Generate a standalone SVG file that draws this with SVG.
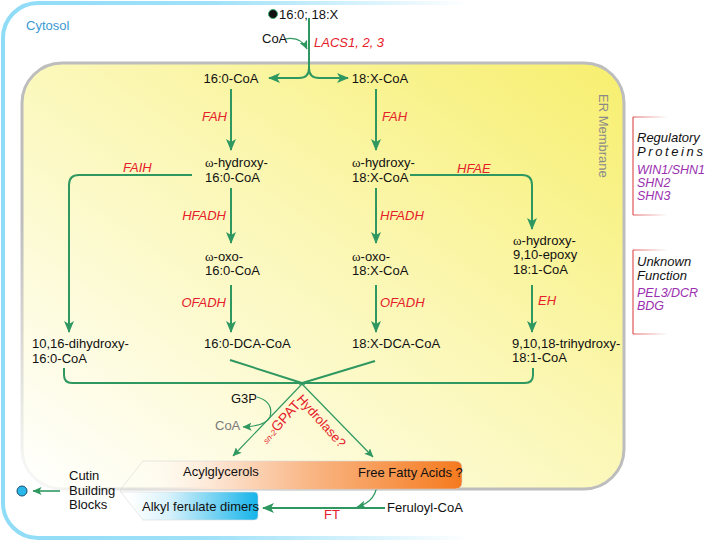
<svg xmlns="http://www.w3.org/2000/svg" width="713" height="542" viewBox="0 0 713 542">
<defs>
<style>
.t{font-family:"Liberation Sans",Arial,sans-serif;font-size:13px;fill:#111}
.w{font-family:"Liberation Serif","Times New Roman",serif}
.e{fill:#e5202a;font-style:italic}
.r{fill:#e5202a}
.p{fill:#9b30b0;font-style:italic;font-size:12.5px}
.g{stroke:#2f9860;stroke-width:2;fill:none}
.gt{stroke:#2f9860;stroke-width:1.2;fill:none}
</style>
<marker id="ah" viewBox="0 0 12 10" refX="11" refY="5" markerWidth="12" markerHeight="10" markerUnits="userSpaceOnUse" orient="auto"><path d="M0,0 L12,5 L0,10 L3,5 z" fill="#2f9860"/></marker>
<marker id="as" viewBox="0 0 9 8" refX="8.5" refY="4" markerWidth="9" markerHeight="8" markerUnits="userSpaceOnUse" orient="auto"><path d="M0,0 L9,4 L0,8 L2,4 z" fill="#2f9860"/></marker>
<linearGradient id="erg" x1="1" y1="0" x2="0" y2="1"><stop offset="0" stop-color="#f7ef6e"/><stop offset="0.45" stop-color="#fbf7b4"/><stop offset="1" stop-color="#ffffff"/></linearGradient>
<linearGradient id="ers" gradientUnits="userSpaceOnUse" x1="20" y1="500" x2="160" y2="360"><stop offset="0" stop-color="#bdbdbd" stop-opacity="0"/><stop offset="1" stop-color="#bdbdbd"/></linearGradient>
<linearGradient id="cys" gradientUnits="userSpaceOnUse" x1="0" y1="0" x2="470" y2="0"><stop offset="0" stop-color="#8fdcf7"/><stop offset="0.45" stop-color="#8fdcf7" stop-opacity="0.85"/><stop offset="1" stop-color="#8fdcf7" stop-opacity="0"/></linearGradient>
<linearGradient id="org" gradientUnits="userSpaceOnUse" x1="130" y1="0" x2="462" y2="0"><stop offset="0" stop-color="#ffffff" stop-opacity="0"/><stop offset="0.25" stop-color="#fde6d4"/><stop offset="0.55" stop-color="#f9b583"/><stop offset="1" stop-color="#f57a1e"/></linearGradient>
<linearGradient id="blg" gradientUnits="userSpaceOnUse" x1="130" y1="0" x2="258" y2="0"><stop offset="0" stop-color="#ffffff"/><stop offset="0.3" stop-color="#d8f2fb"/><stop offset="1" stop-color="#16b4ea"/></linearGradient>
<linearGradient id="brk" gradientUnits="userSpaceOnUse" x1="633" y1="0" x2="668" y2="0"><stop offset="0" stop-color="#e05555"/><stop offset="1" stop-color="#e05555" stop-opacity="0"/></linearGradient>
</defs>

<g id="cytosol">
<path d="M470,3 H38 A35,35 0 0 0 3,38 V503 A35,35 0 0 0 38,538 H470" fill="none" stroke="url(#cys)" stroke-width="4"/>
<text class="t" x="26" y="30" style="fill:#3a9ad3">Cytosol</text>
</g>

<g id="er-membrane">
<rect x="22" y="63" width="602" height="426" rx="40" ry="40" fill="url(#erg)" stroke="url(#ers)" stroke-width="3"/>
<text class="t" transform="translate(599,94) rotate(90)" style="fill:#8a8a8a">ER Membrane</text>
</g>

<g id="regulatory-proteins">
<path d="M668,117 H633 M633,215 H668" stroke="url(#brk)" stroke-width="1.2" fill="none"/>
<path d="M633,117 V215" stroke="#e05555" stroke-width="1.2"/>
<text class="t" x="637" y="142" font-style="italic">Regulatory</text>
<text class="t" x="637" y="156" font-style="italic" letter-spacing="2.6">Proteins</text>
<text class="t p" x="637" y="174">WIN1/SHN1</text>
<text class="t p" x="637" y="187">SHN2</text>
<text class="t p" x="637" y="200">SHN3</text>
</g>

<g id="unknown-function">
<path d="M668,250 H633 M633,334 H668" stroke="url(#brk)" stroke-width="1.2" fill="none"/>
<path d="M633,250 V334" stroke="#e05555" stroke-width="1.2"/>
<text class="t" x="637" y="266" font-style="italic">Unknown</text>
<text class="t" x="637" y="280" font-style="italic">Function</text>
<text class="t p" x="637" y="297">PEL3/DCR</text>
<text class="t p" x="637" y="310">BDG</text>
</g>

<g id="connectors">
<path class="g" d="M309,18 V68 Q309,78 299,78 H269" marker-end="url(#ah)"/>
<path class="g" d="M309,68 Q309,78 319,78 H348" marker-end="url(#ah)"/>
<path class="gt" d="M285,39 Q301,36 307,49" marker-end="url(#as)"/>
<path class="g" d="M231,89 V150" marker-end="url(#ah)"/>
<path class="g" d="M231,188 V243" marker-end="url(#ah)"/>
<path class="g" d="M231,285 V332" marker-end="url(#ah)"/>
<path class="g" d="M376,89 V150" marker-end="url(#ah)"/>
<path class="g" d="M376,188 V243" marker-end="url(#ah)"/>
<path class="g" d="M376,285 V332" marker-end="url(#ah)"/>
<path class="g" d="M410,175 H522 Q532,175 532,185 V229" marker-end="url(#ah)"/>
<path class="g" d="M532,285 V332" marker-end="url(#ah)"/>
<path class="g" d="M192,175 H79 Q69,175 69,185 V332" marker-end="url(#ah)"/>
<path class="g" d="M64,368 V375 Q64,383 72,383 H525 Q533,383 533,375 V368"/>
<path class="g" d="M230,360 L305,384"/>
<path class="g" d="M375,361 L299,384"/>
<path class="gt" d="M302,384 L233,456" marker-end="url(#as)"/>
<path class="gt" d="M302,384 L373,457" marker-end="url(#as)"/>
<path class="gt" d="M257,397 Q274,402 270,417 Q266,426 243,427" marker-end="url(#as)"/>
<path class="g" d="M263,472 H353" marker-end="url(#ah)"/>
<path class="gt" d="M377,480 Q378,501 357,507" marker-end="url(#as)"/>
<path class="g" d="M385,508 H263" marker-end="url(#ah)"/>
<path class="g" style="stroke-width:1.6" d="M60,491 H33" marker-end="url(#as)"/>
</g>

<g id="labels">
<text class="t e" x="314" y="47">LACS1, 2, 3</text>
<text class="t e" x="227" y="121" text-anchor="end">FAH</text>
<text class="t e" x="382" y="121">FAH</text>
<text class="t e" x="226" y="220" text-anchor="end">HFADH</text>
<text class="t e" x="380" y="220">HFADH</text>
<text class="t e" x="226" y="307" text-anchor="end">OFADH</text>
<text class="t e" x="380" y="307">OFADH</text>
<text class="t e" x="457" y="173">HFAE</text>
<text class="t e" x="538" y="305">EH</text>
<text class="t e" x="123" y="172">FAIH</text>
<text class="t r" transform="translate(318,424) rotate(48)" text-anchor="middle">Hydrolase?</text>
<text class="t r" transform="translate(284,425) rotate(-48)" text-anchor="middle"><tspan font-size="8" font-style="italic">sn-2</tspan><tspan font-size="14">GPAT</tspan></text>
<text class="t r" x="273" y="485">Hydrolase?</text>
<text class="t r" x="324" y="519" font-size="11">FT</text>
</g>

<g id="n-source">
<circle cx="273" cy="14" r="4.5" fill="#111" stroke="#3fb070" stroke-width="1"/>
<text class="t" x="279" y="19">16:0; 18:X</text>
</g>
<g id="n-coa-top"><text class="t" x="262" y="43" font-size="11">CoA</text></g>
<g id="n-160coa"><text class="t" x="231" y="83" text-anchor="middle">16:0-CoA</text></g>
<g id="n-18xcoa"><text class="t" x="380" y="83" text-anchor="middle">18:X-CoA</text></g>
<g id="n-whydroxy-160"><text class="t" x="205" y="167"><tspan class="w">ω</tspan>-hydroxy-</text><text class="t" x="205" y="182">16:0-CoA</text></g>
<g id="n-whydroxy-18x"><text class="t" x="352" y="167"><tspan class="w">ω</tspan>-hydroxy-</text><text class="t" x="352" y="182">18:X-CoA</text></g>
<g id="n-woxo-160"><text class="t" x="205" y="261"><tspan class="w">ω</tspan>-oxo-</text><text class="t" x="205" y="275">16:0-CoA</text></g>
<g id="n-woxo-18x"><text class="t" x="352" y="261"><tspan class="w">ω</tspan>-oxo-</text><text class="t" x="352" y="275">18:X-CoA</text></g>
<g id="n-epoxy"><text class="t" x="513" y="245"><tspan class="w">ω</tspan>-hydroxy-</text><text class="t" x="513" y="259">9,10-epoxy</text><text class="t" x="513" y="274">18:1-CoA</text></g>
<g id="n-dihydroxy"><text class="t" x="32" y="348">10,16-dihydroxy-</text><text class="t" x="32" y="363">16:0-CoA</text></g>
<g id="n-dca-160"><text class="t" x="204" y="348">16:0-DCA-CoA</text></g>
<g id="n-dca-18x"><text class="t" x="352" y="348">18:X-DCA-CoA</text></g>
<g id="n-trihydroxy"><text class="t" x="512" y="348">9,10,18-trihydroxy-</text><text class="t" x="512" y="362">18:1-CoA</text></g>
<g id="n-g3p"><text class="t" x="231" y="403" font-size="12">G3P</text></g>
<g id="n-coa-low"><text class="t" x="215" y="430" font-size="12" style="fill:#7a7a7a">CoA</text></g>

<g id="n-acylglycerols">
<path d="M120,490 L143,461 H455 Q462,461 462,468 V482 Q462,489 455,489 Z" fill="url(#org)" stroke="#d8d8d8" stroke-opacity="0.6" stroke-width="1"/>
<text class="t" x="183" y="476" font-size="12">Acylglycerols</text>
<text class="t" x="358" y="477" font-size="12">Free Fatty Acids ?</text>
</g>
<g id="n-alkyl">
<path d="M120,491 L143,520 H254 Q258,520 258,516 V496 Q258,492 254,492 H121 Z" fill="url(#blg)" stroke="#d8d8d8" stroke-opacity="0.6" stroke-width="1"/>
<text class="t" x="142" y="511" font-size="12.5">Alkyl ferulate dimers</text>
</g>
<g id="n-feruloyl"><text class="t" x="387" y="512" font-size="12.5">Feruloyl-CoA</text></g>
<g id="n-cutin">
<text class="t" x="69" y="480">Cutin</text>
<text class="t" x="69" y="495">Building</text>
<text class="t" x="69" y="509">Blocks</text>
<circle cx="22" cy="491" r="5" fill="#29b6e8" stroke="#1a4f70" stroke-width="1"/>
</g>
</svg>
